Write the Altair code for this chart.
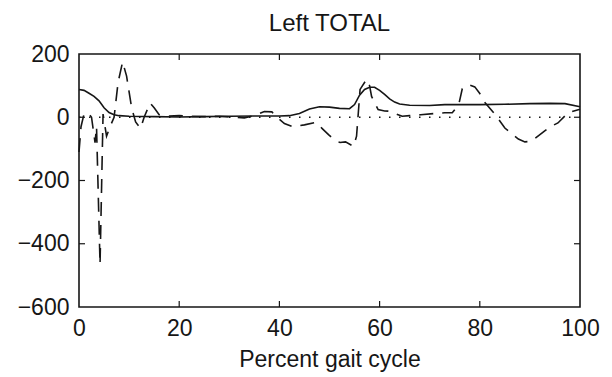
import altair as alt
import pandas as pd

# Solid curve
solid_x = [0, 1, 2, 3, 4, 5, 6, 7, 8, 10, 15, 20, 25, 30, 35, 40, 42, 44, 46, 48, 50, 52, 54,
           55, 56, 57, 58, 59, 60, 61, 62, 63, 64, 66, 70, 73, 76, 80, 85, 90, 94, 97, 100]
solid_y = [88, 85, 76, 66, 52, 30, 15, 8, 5, 3, 2, 1, 2, 3, 4, 4, 5, 12, 26, 33, 32, 28, 27,
           40, 70, 88, 95, 95, 85, 72, 58, 48, 42, 38, 37, 40, 40, 40, 41, 43, 44, 43, 33]

# Dashed curve
dash_x = [0, 0.4, 1.0, 1.8, 2.5, 3.2, 3.5, 4.2, 4.8, 5.5, 6.2, 7.0, 7.8, 8.7, 9.5, 10.5, 11.3,
          12.3, 13.0, 14.2, 15.0, 16.0, 18, 20, 22, 25, 28, 30, 33, 35, 37, 38.5, 39.5, 41,
          42.7, 45, 47.3, 48.5, 49.8, 51, 52.1, 53.2, 54.8, 55.4, 56.1, 57.4, 58.0, 58.4, 59.7,
          61, 62, 64.5, 66, 68.2, 71.2, 73, 74.5, 75.8, 76.5, 77.8, 79, 80, 81.1, 83.1, 85,
          87.7, 89, 90.3, 92.9, 94.3, 95.6, 97.6, 100]
dash_y = [-110, -30, 10, 15, 0, -80, -30, -465, 10, -60, -30, 0, 110, 175, 130, 30, -15,
          -35, 0, 45, 30, 8, 4, 5, 3, 2, 3, 1, -2, 5, 18, 17, 0, -20,
          -30, -24, -16, -35, -55, -72, -80, -78, -92, -60, 88, 120, 100, 66, 24,
          20, 19, 3, 5, 8, 12, 14, 14, 40, 90, 103, 96, 75, 45, 8, -34,
          -69, -78, -76, -44, -28, -18, 14, 25]

# Zero reference (dotted)
zero_x = [0, 100]
zero_y = [0, 0]

x_ticks = [0, 20, 40, 60, 80, 100]
y_ticks = [-600, -400, -200, 0, 200]
x_inner = [20, 40, 60, 80]
y_inner = [-400, -200, 0]

W, H = 501, 253
FONT = "Liberation Sans"
INK = "#161616"

xs = alt.Scale(domain=[0, 100], nice=False, zero=False)
ys = alt.Scale(domain=[-600, 200], nice=False, zero=False)

xaxis = alt.Axis(values=x_ticks, grid=False, ticks=False, domain=False,
                 labelFont=FONT, labelFontSize=23, labelColor=INK, labelPadding=10,
                 title="Percent gait cycle", titleFont=FONT, titleFontSize=23,
                 titleFontWeight="normal", titleColor=INK,
                 titleX=W / 2, titleY=59, titleBaseline="alphabetic",
                 titleAlign="center", labelFlush=False)
yaxis = alt.Axis(values=y_ticks, grid=False, ticks=False, domain=False,
                 labelFont=FONT, labelFontSize=23, labelColor=INK, labelPadding=10,
                 title=None, labelFlush=False)

solid_df = pd.DataFrame({"x": solid_x, "y": solid_y})
dash_df = pd.DataFrame({"x": dash_x, "y": dash_y})
zero_df = pd.DataFrame({"x": zero_x, "y": zero_y})
xt_df = pd.DataFrame({"t": x_inner})
yt_df = pd.DataFrame({"t": y_inner})

X = alt.X("x:Q", scale=xs, axis=xaxis)
Y = alt.Y("y:Q", scale=ys, axis=yaxis)

solid = alt.Chart(solid_df).mark_line(color=INK, strokeWidth=1.6).encode(x=X, y=Y)

dashed = alt.Chart(dash_df).mark_line(color=INK, strokeWidth=1.6, strokeDash=[14, 9]).encode(x=X, y=Y)

zero = alt.Chart(zero_df).mark_line(color=INK, strokeWidth=1.6, strokeDash=[1.5, 8.5]).encode(x=X, y=Y)

XT = alt.X("t:Q", scale=xs, axis=xaxis)
YT = alt.Y("t:Q", scale=ys, axis=yaxis)
tick_bottom = alt.Chart(xt_df).mark_rule(color=INK, strokeWidth=1.2).encode(
    x=XT, y=alt.value(H), y2=alt.value(H - 6))
tick_top = alt.Chart(xt_df).mark_rule(color=INK, strokeWidth=1.2).encode(
    x=XT, y=alt.value(0), y2=alt.value(6))
tick_left = alt.Chart(yt_df).mark_rule(color=INK, strokeWidth=1.2).encode(
    y=YT, x=alt.value(0), x2=alt.value(6))
tick_right = alt.Chart(yt_df).mark_rule(color=INK, strokeWidth=1.2).encode(
    y=YT, x=alt.value(W), x2=alt.value(W - 6))

chart = alt.layer(solid, zero, dashed, tick_bottom, tick_top, tick_left, tick_right).properties(
    width=W, height=H,
    title=alt.TitleParams("Left TOTAL", font=FONT, fontSize=24, fontWeight="normal",
                          color=INK, offset=7, anchor="middle"),
    padding={"left": 79, "top": 54, "right": 32, "bottom": 70},
    autosize=alt.AutoSizeParams(type="none"),
    background="white",
).configure_view(stroke=INK, strokeWidth=1.6)

chart.save("out.html", embed_options={"renderer": "svg", "actions": False})
